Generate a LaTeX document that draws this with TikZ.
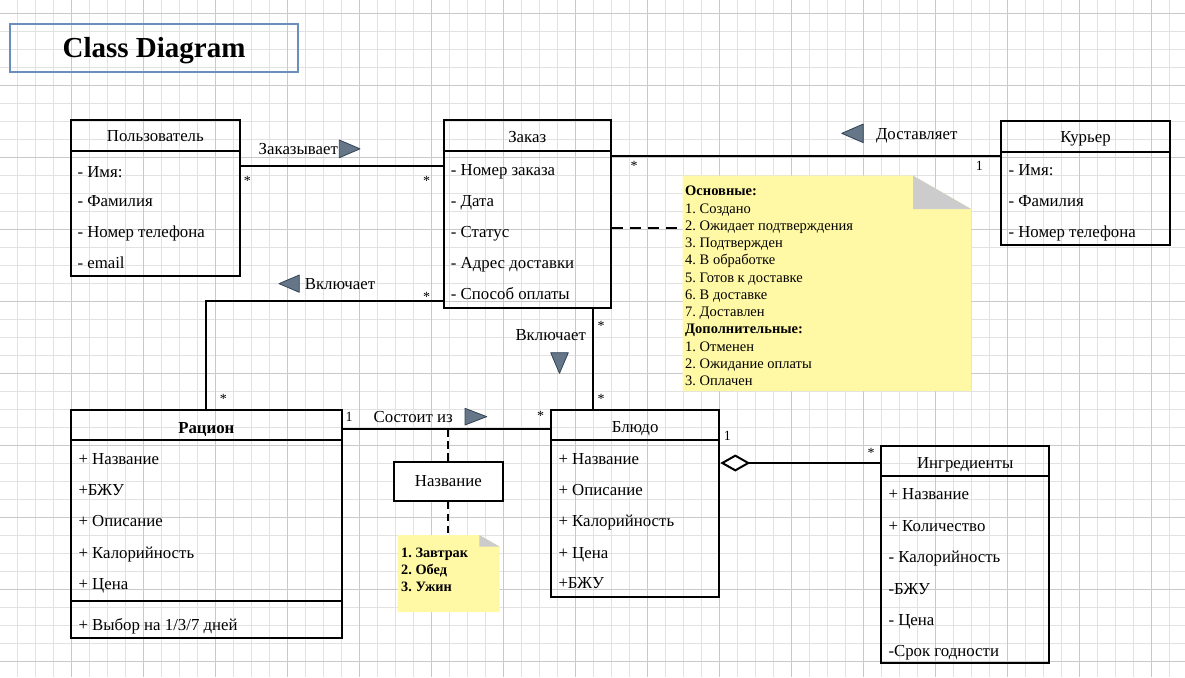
\documentclass[tikz,border=0pt]{standalone}
\usepackage{fontspec}
\setmainfont{Liberation Serif}
\usetikzlibrary{arrows.meta}
\frenchspacing
\definecolor{gridminor}{HTML}{E2E2E2}
\definecolor{gridmajor}{HTML}{C9C9C9}
\definecolor{titleblue}{HTML}{6C8EBF}
\definecolor{notefill}{HTML}{FFF9A5}
\definecolor{notefold}{HTML}{CCCCCC}
\definecolor{trifill}{HTML}{647687}
\definecolor{tristroke}{HTML}{314354}

\begin{document}
\begin{tikzpicture}[x=1pt,y=-1pt,
  gminor/.style={draw=gridminor,line width=1pt},
  gmajor/.style={draw=gridmajor,line width=1pt},
  txt/.style={inner sep=0pt,text height=11.1pt,text depth=0pt,font=\fontsize{16.8}{19}\selectfont},
  item/.style={txt,anchor=west},
  lbl/.style={txt,anchor=center},
  mult/.style={inner sep=0pt,anchor=base,font=\fontsize{14}{16}\selectfont},
  cls/.style={draw,line width=2pt,inner sep=0pt,anchor=north west},
  region/.style={inner sep=0pt,anchor=north west},
  assoc/.style={line width=2pt},
  noteline/.style={line width=2pt,dash pattern=on 11pt off 7pt},
  noteline2/.style={line width=2pt,dash pattern=on 7.5pt off 4.5pt},
  dirtri/.style={fill=trifill,draw=tristroke,line width=.8pt,line join=round},
  notetxt/.style={inner sep=0pt,anchor=west,text height=9.6pt,text depth=0pt,font=\fontsize{14.5}{17}\selectfont},
]
\useasboundingbox (0,0) rectangle (1185,677);
\fill[white] (0,0) rectangle (1185,677);

% background grid
\foreach \i in {0,...,66} \draw[gminor] ({-0.7+18*\i},0) -- ++(0,677);
\foreach \j in {0,...,38} \draw[gminor] (0,{-4.7+18*\j}) -- ++(1185,0);
\foreach \i in {0,...,16} \draw[gmajor] ({-0.7+72*\i},0) -- ++(0,677);
\foreach \j in {0,...,9} \draw[gmajor] (0,{13.3+72*\j}) -- ++(1185,0);

% title
\node[draw=titleblue,line width=2pt,minimum width=288,minimum height=48,inner sep=0pt,
      font=\fontsize{29}{32}\bfseries\selectfont,text height=19.1pt,text depth=0pt] (title) at (154,48.3) {Class Diagram};

% --- classes ---
% Пользователь
\node[cls,minimum width=168.7,minimum height=155.7] (polz) at (70,119.3) {};
\draw[assoc] (polz.west |- 0,150.7) -- (polz.east |- 0,150.7);
\node[lbl] (polz-t) at (polz.north |- 0,136) {Пользователь};
\foreach \y/\t [count=\k] in {171.7/- Имя:, 200.7/- Фамилия, 232/- Номер телефона, 263/- email}
  \node[item] (polz-\k) at (77.3,\y) {\t};

% Заказ
\node[cls,minimum width=167.5,minimum height=187.4] (zak) at (442.5,119.3) {};
\draw[assoc] (zak.west |- 0,151) -- (zak.east |- 0,151);
\node[lbl] (zak-t) at (zak.north |- 0,136.7) {Заказ};
\foreach \y/\t [count=\k] in {170/- Номер заказа, 200.7/- Дата, 231.7/- Статус, 262.7/- Адрес доставки, 294.3/- Способ оплаты}
  \node[item] (zak-\k) at (450.7,\y) {\t};

% Курьер
\node[cls,minimum width=169,minimum height=124.3] (kur) at (1000,120) {};
\draw[assoc] (kur.west |- 0,151.7) -- (kur.east |- 0,151.7);
\node[lbl] (kur-t) at (kur.north |- 0,136.7) {Курьер};
\foreach \y/\t [count=\k] in {170/- Имя:, 200.7/- Фамилия, 231.7/- Номер телефона}
  \node[item] (kur-\k) at (1008.3,\y) {\t};

% Рацион
\node[cls,minimum width=270.7,minimum height=227.7] (rac) at (70,409) {};
\draw[assoc] (rac.west |- 0,440) -- (rac.east |- 0,440);
\draw[line width=1.5pt] (rac.west |- 0,601) -- (rac.east |- 0,601);
\node[lbl,font=\fontsize{16.8}{19}\bfseries\selectfont] (rac-t) at (rac.north |- 0,427.7) {Рацион};
\foreach \y/\t [count=\k] in {459/+ Название, 490/+БЖУ, 521/+ Описание, 552.7/+ Калорийность, 584/+ Цена, 625/{+ Выбор на 1/3/7 дней}}
  \node[item] (rac-\k) at (78.3,\y) {\t};

% Блюдо
\node[cls,minimum width=168.3,minimum height=186.7] (blu) at (550,409) {};
\draw[assoc] (blu.west |- 0,440) -- (blu.east |- 0,440);
\node[lbl] (blu-t) at (blu.north |- 0,426.7) {Блюдо};
\foreach \y/\t [count=\k] in {459/+ Название, 490/+ Описание, 521/+ Калорийность, 552.7/+ Цена, 583.3/+БЖУ}
  \node[item] (blu-\k) at (558.3,\y) {\t};

% Ингредиенты
\node[cls,minimum width=168.3,minimum height=217.3] (ingr) at (880,445) {};
\draw[assoc] (ingr.west |- 0,475.7) -- (ingr.east |- 0,475.7);
\node[lbl] (ingr-t) at (ingr.north |- 0,463.3) {Ингредиенты};
\foreach \y/\t [count=\k] in {494.3/+ Название, 526/+ Количество, 556.7/- Калорийность, 589.3/-БЖУ, 620/- Цена, 650.7/-Срок годности}
  \node[item] (ingr-\k) at (888.3,\y) {\t};

% --- order status note ---
\node[region,minimum width=288,minimum height=215] (note1) at (682.7,175.7) {};
\fill[notefill] (note1.north west) -- ([xshift=-58pt]note1.north east) -- ([yshift=-33.3pt]note1.north east)
  -- (note1.south east) -- (note1.south west) -- cycle;
\fill[notefold] ([xshift=-58pt]note1.north east) -- ([xshift=-58pt,yshift=-33.3pt]note1.north east)
  -- ([yshift=-33.3pt]note1.north east) -- cycle;
\foreach \t [count=\k from 0] in {\textbf{Основные:}, 1. Создано, 2. Ожидает подтверждения, 3. Подтвержден,
    4. В обработке, 5. Готов к доставке, 6. В доставке, 7. Доставлен, \textbf{Дополнительные:},
    1. Отменен, 2. Ожидание оплаты, 3. Оплачен}
  \node[notetxt] (note1-\k) at (685,{191+17.27*\k}) {\t};

% --- meal name qualifier and its note ---
\node[draw,fill=white,line width=2pt,minimum width=108.7,minimum height=39.3,inner sep=0pt,
      font=\fontsize{16.8}{19}\selectfont,text height=11.1pt,text depth=0pt] (nazv) at (448.3,481.3) {Название};
\node[region,minimum width=101.6,minimum height=76.7] (note2) at (397.7,535) {};
\fill[notefill] (note2.north west) -- ([xshift=-20.3pt]note2.north east) -- ([yshift=-11.7pt]note2.north east)
  -- (note2.south east) -- (note2.south west) -- cycle;
\fill[notefold] ([xshift=-20.3pt]note2.north east) -- ([xshift=-20.3pt,yshift=-11.7pt]note2.north east)
  -- ([yshift=-11.7pt]note2.north east) -- cycle;
\foreach \t [count=\k from 0] in {1. Завтрак, 2. Обед, 3. Ужин}
  \node[notetxt,font=\fontsize{14.3}{17}\bfseries\selectfont] (note2-\k) at (401,{552.3+17.2*\k}) {\t};

% --- connectors ---
\draw[assoc] (polz.east |- 0,166) -- (zak.west |- 0,166);
\draw[assoc] (zak.east |- 0,156) -- (kur.west |- 0,156);
\draw[assoc] (zak.west |- 0,300.7) -| (rac.north);
\draw[assoc] (zak.south -| 592.7,0) -- (blu.north -| 592.7,0);
\draw[assoc] (rac.east |- 0,429) -- (blu.west |- 0,429);
\coordinate (sost) at (nazv.north |- 0,429);
\draw[assoc,-{Diamond[fill=white,length=30pt,width=17pt,line width=2pt]}] (ingr.west |- 0,463) -- (blu.east |- 0,463);
\draw[noteline] (zak.east |- 0,228.3) -- (note1.west |- 0,228.3);
\draw[noteline2] (sost) -- (nazv.north);
\draw[noteline2] (nazv.south) -- (note2.north -| nazv.south);

% association names and direction marks
\node[lbl] (l-order) at (298.3,149.3) {Заказывает};
\node[lbl] (l-deliv) at (916.7,134) {Доставляет};
\node[lbl] (l-incl1) at (340,284) {Включает};
\node[lbl] (l-incl2) at (550.7,335) {Включает};
\node[lbl] (l-cons) at (413.3,416.7) {Состоит из};
\filldraw[dirtri] (339.3,140) -- (360,148.85) -- (339.3,157.7) -- cycle;
\filldraw[dirtri] (863.3,124) -- (841.7,133.35) -- (863.3,142.7) -- cycle;
\filldraw[dirtri] (299.3,275) -- (279,283.65) -- (299.3,292.3) -- cycle;
\filldraw[dirtri] (550.7,352.7) -- (568.3,352.7) -- (559.5,373.3) -- cycle;
\filldraw[dirtri] (465,408.3) -- (486.7,416.65) -- (465,425) -- cycle;

% multiplicities
\foreach \x/\y [count=\k] in {247.3/185, 426.7/185, 634/170, 426.7/301.7, 223.3/403.4, 601/330, 601/403.4, 540.7/420.7, 871/457.4}
  \node[mult] (m-star-\k) at (\x,\y) {*};
\foreach \x/\y [count=\k] in {979.3/170.7, 349/421.4, 727.3/440.7}
  \node[mult] (m-one-\k) at (\x,\y) {1};
\end{tikzpicture}
\end{document}
